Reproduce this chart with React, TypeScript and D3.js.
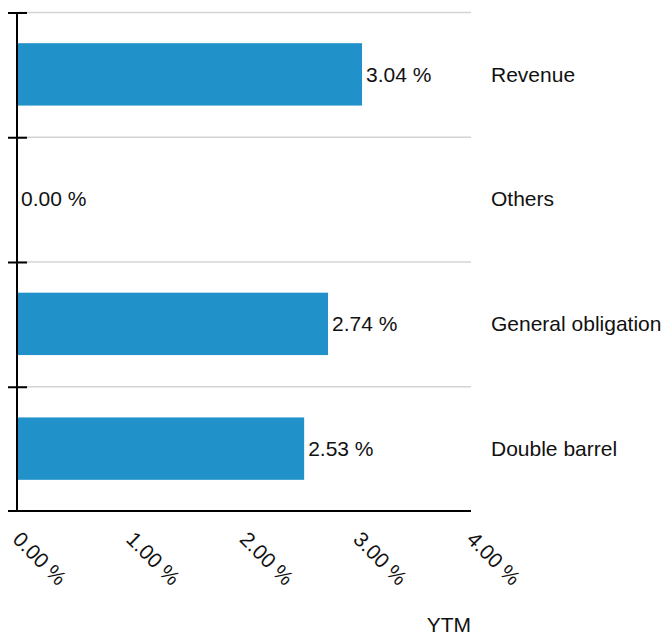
import React from "react";
import * as d3 from "d3";

const categories = ["Revenue", "Others", "General obligation", "Double barrel"];
const values = [3.04, 0.0, 2.74, 2.53];
const xTicks = [0, 1, 2, 3, 4];
const xLabel = "YTM";

export default function App() {
  const width = 667;
  const height = 636;
  const x0 = 17, x1 = 471, yTop = 12, yBot = 511;
  const x = d3.scaleLinear().domain([0, 4]).range([x0, x1]);
  const y = d3.scaleBand<string>().domain(categories).range([yTop, yBot]).paddingInner(0).paddingOuter(0);
  const bw = y.bandwidth();
  const barH = bw * 0.5;
  const fmt = (v: number) => `${v.toFixed(2)} %`;
  const font = "Liberation Sans, Arial, sans-serif";
  const fs = 21;
  return (
    <svg width={width} height={height} style={{ position: "absolute", left: 0, top: 0 }} fontFamily={font}>
      {categories.map((c) => (
        <line key={"g" + c} x1={x0} x2={x1} y1={y(c)! + 0.5} y2={y(c)! + 0.5} stroke="#d4d4d4" strokeWidth={1.5} />
      ))}
      {categories.map((c, i) => {
        const yc = y(c)! + bw / 2;
        return (
          <g key={c}>
            <rect x={x0} y={yc - barH / 2} width={Math.max(x(values[i]) - x0, 1)} height={barH} fill="#2192c9" />
            <text x={x(values[i]) + 4} y={yc} dy="0.35em" fontSize={fs} fill="#111">{fmt(values[i])}</text>
            <text x={491} y={yc} dy="0.35em" fontSize={fs} fill="#111">{c}</text>
          </g>
        );
      })}
      <line x1={x0} x2={x0} y1={yTop} y2={yBot + 1} stroke="#000" strokeWidth={2} />
      {categories.map((c) => (
        <line key={"t" + c} x1={8} x2={27} y1={y(c)! + 1} y2={y(c)! + 1} stroke="#000" strokeWidth={2} />
      ))}
      <line x1={8} x2={x1} y1={yBot} y2={yBot} stroke="#000" strokeWidth={2} />
      {xTicks.map((t) => (
        <text key={"x" + t} transform={`translate(${x(t) + 5},${530}) rotate(45)`} dy="0.71em" fontSize={fs} fill="#111">{fmt(t)}</text>
      ))}
      <text x={x1} y={632} textAnchor="end" fontSize={fs} fill="#111">{xLabel}</text>
    </svg>
  );
}
